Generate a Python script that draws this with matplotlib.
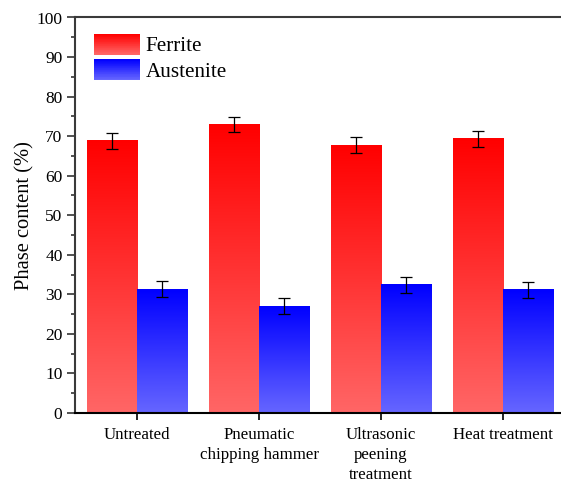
import numpy as np
import matplotlib
matplotlib.use("Agg")
import matplotlib.pyplot as plt
from matplotlib.patches import Rectangle
from matplotlib.legend_handler import HandlerBase
from matplotlib.colors import LinearSegmentedColormap

plt.rcParams['font.family'] = ['Liberation Serif', 'DejaVu Serif']

categories = ["Untreated", "Pneumatic\nchipping hammer", "Ultrasonic\npeening\ntreatment", "Heat treatment"]
ferrite = [68.8, 73.0, 67.7, 69.3]
ferrite_err = [2.0, 1.95, 2.0, 2.0]
austenite = [31.3, 27.0, 32.4, 31.1]
austenite_err = [2.0, 2.0, 2.1, 2.0]
series_names = ["Ferrite", "Austenite"]

red_cmap = LinearSegmentedColormap.from_list("r", [(1, 0.4, 0.4), (1, 0, 0)])
blue_cmap = LinearSegmentedColormap.from_list("b", [(0.4, 0.4, 1), (0, 0, 1)])

fig = plt.figure(figsize=(5.61, 4.86), dpi=100)
ax = fig.add_axes([75/561, 73/486, 486/561, 395.5/486])

x = np.arange(len(categories))
w = 0.41
xlim = (-0.508, 3.475)
ylim = (0, 100)

grad = np.linspace(0, 1, 256).reshape(-1, 1)

def gradient_bars(xpos, vals, errs, cmap):
    bars = ax.bar(xpos, vals, w, facecolor='none', edgecolor='none', zorder=2)
    for r in bars:
        bx, by = r.get_x(), r.get_y()
        bw, bh = r.get_width(), r.get_height()
        ax.imshow(grad, extent=[bx, bx + bw, by, by + bh], origin='lower',
                  aspect='auto', cmap=cmap, zorder=2, interpolation='bilinear')
    ax.errorbar(xpos, vals, yerr=errs, fmt='none', ecolor='black',
                elinewidth=0.9, capsize=4, capthick=0.9, zorder=3)

gradient_bars(x - w/2, ferrite, ferrite_err, red_cmap)
gradient_bars(x + w/2, austenite, austenite_err, blue_cmap)

ax.set_xlim(*xlim)
ax.set_ylim(*ylim)

ax.set_xticks(x)
ax.set_xticklabels(categories, fontsize=12.2, linespacing=1.32)
ax.set_yticks(np.arange(0, 101, 10))
ax.set_yticks(np.arange(5, 100, 10), minor=True)
ax.tick_params(axis='y', which='major', direction='out', length=6, width=1.2, labelsize=12.5, pad=3, color='#333333')
ax.tick_params(axis='y', which='minor', direction='out', length=3, width=1.2, color='#333333')
ax.tick_params(axis='x', which='major', direction='out', length=5, width=1.2, labelsize=12.2, pad=5)
ax.set_ylabel("Phase content (%)", fontsize=14.8, labelpad=1.5)

for s in ['left', 'top']:
    ax.spines[s].set_color('#3a3a3a')
    ax.spines[s].set_linewidth(1.5)
ax.spines['bottom'].set_color('black')
ax.spines['bottom'].set_linewidth(1.5)
ax.spines['right'].set_visible(False)


class GradHandler(HandlerBase):
    def __init__(self, cmap, n=30):
        super().__init__()
        self.cmap = cmap
        self.n = n

    def create_artists(self, legend, orig_handle, xdescent, ydescent,
                       width, height, fontsize, trans):
        arts = []
        for i in range(self.n):
            frac = i / (self.n - 1)
            r = Rectangle((-xdescent, -ydescent + height * i / self.n), width,
                          height / self.n * 1.05, facecolor=self.cmap(frac),
                          edgecolor='none', transform=trans)
            arts.append(r)
        return arts

h1 = Rectangle((0, 0), 1, 1)
h2 = Rectangle((0, 0), 1, 1)
leg = ax.legend([h1, h2], series_names, loc='upper left',
                bbox_to_anchor=(19/486, (413-34)/395.5), frameon=False,
                borderaxespad=0, borderpad=0, fontsize=15.2,
                handlelength=2.2, handleheight=1.12, handletextpad=0.25,
                labelspacing=0.14,
                handler_map={h1: GradHandler(red_cmap), h2: GradHandler(blue_cmap)})

fig.savefig("out.png", dpi=100)
